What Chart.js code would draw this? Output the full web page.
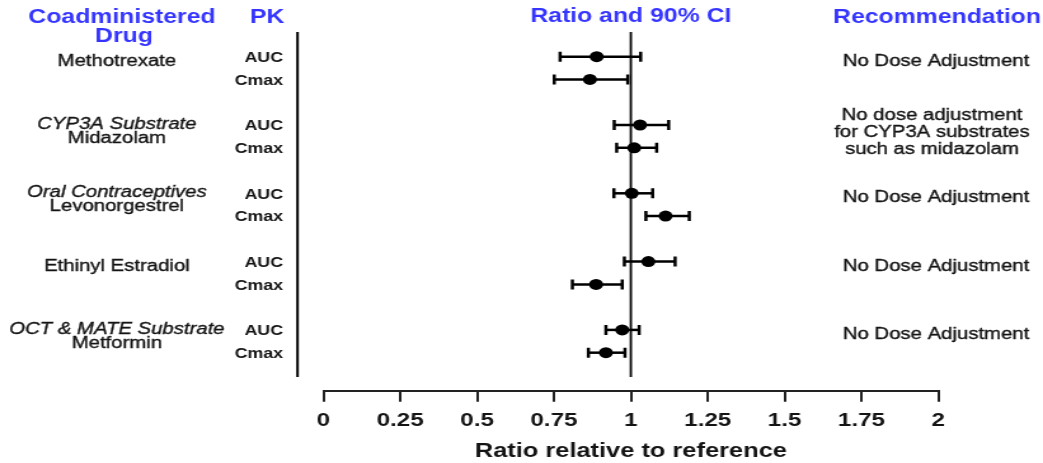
<!DOCTYPE html>
<html><head><meta charset="utf-8">
<script src="https://cdn.jsdelivr.net/npm/chart.js@4.4.1/dist/chart.umd.min.js"></script>
<style>
html,body{margin:0;padding:0;background:#fff;overflow:hidden;width:1043px;height:463px;}
#wrap{position:absolute;left:0;top:0;width:821px;height:463px;transform:scaleX(1.2704);transform-origin:0 0;}
</style></head><body>
<div id="wrap"><canvas id="c"></canvas></div>
<script>
// ---- data ----
const drugs = ['Methotrexate', 'Midazolam', 'Levonorgestrel', 'Ethinyl Estradiol', 'Metformin'];
const groupLabels = ['', 'CYP3A Substrate', 'Oral Contraceptives', '', 'OCT & MATE Substrate'];
const pkParams = ['AUC', 'Cmax'];
const ratioAUC = [0.889, 1.030, 1.003, 1.057, 0.972];
const lowerAUC = [0.770, 0.946, 0.945, 0.979, 0.919];
const upperAUC = [1.032, 1.123, 1.071, 1.144, 1.027];
const ratioCmax = [0.867, 1.011, 1.113, 0.887, 0.919];
const lowerCmax = [0.751, 0.954, 1.049, 0.810, 0.862];
const upperCmax = [0.990, 1.084, 1.190, 0.972, 0.981];
const recommendations = [
  ['No Dose Adjustment'],
  ['No dose adjustment', 'for CYP3A substrates', 'such as midazolam'],
  ['No Dose Adjustment'],
  ['No Dose Adjustment'],
  ['No Dose Adjustment']
];
const xTicks = [0, 0.25, 0.5, 0.75, 1, 1.25, 1.5, 1.75, 2];
const xTickLabels = ['0', '0.25', '0.5', '0.75', '1', '1.25', '1.5', '1.75', '2'];
const refValue = 1;
const headers = {drug: ['Coadministered', 'Drug'], pk: 'PK', ratio: 'Ratio and 90% CI', rec: 'Recommendation'};
const xTitle = 'Ratio relative to reference';

// ---- style / layout ----
const FAM = "'Liberation Sans', Arial, sans-serif";
const BLUE = '#3535ff';
const INK = '#141414';
const Y_MIN = -1.085, Y_MAX = 14.67, Y_LINE_END = 14.07;
const AXIS_X = 234.2;
const LEFT_CX = 92, PK_RX = 222.8, REC_CX = 736.8, REC3_CX = 733.6;

function rowAUC(i){ return 3 * i; }
function rowCmax(i){ return 3 * i + 1; }

const points = [];
drugs.forEach((d, i) => {
  points.push({x: ratioAUC[i], y: rowAUC(i)});
  points.push({x: ratioCmax[i], y: rowCmax(i)});
});

function txt(ctx, s, x, y, font, color, align, stroke){
  ctx.font = font; ctx.fillStyle = color; ctx.textAlign = align || 'center'; ctx.textBaseline = 'middle';
  ctx.fillText(s, x, y);
  if (stroke) { ctx.strokeStyle = color; ctx.lineWidth = stroke; ctx.strokeText(s, x, y); }
}

const forest = {
  id: 'forest',
  beforeDatasetsDraw(chart){
    const {ctx, scales: {x, y}} = chart;
    ctx.save();
    ctx.strokeStyle = '#000';
    ctx.lineCap = 'butt';
    ctx.lineWidth = 2;
    ctx.beginPath();
    ctx.moveTo(AXIS_X, y.getPixelForValue(Y_MIN));
    ctx.lineTo(AXIS_X, y.getPixelForValue(Y_LINE_END));
    ctx.stroke();
    const rx = x.getPixelForValue(refValue);
    ctx.lineWidth = 1.8;
    ctx.beginPath();
    ctx.moveTo(rx, y.getPixelForValue(Y_MIN));
    ctx.lineTo(rx, y.getPixelForValue(Y_LINE_END));
    ctx.stroke();
    const bars = [];
    drugs.forEach((d, i) => {
      bars.push([rowAUC(i), lowerAUC[i], upperAUC[i]]);
      bars.push([rowCmax(i), lowerCmax[i], upperCmax[i]]);
    });
    bars.forEach(([r, lo, hi]) => {
      const py = y.getPixelForValue(r);
      const xl = x.getPixelForValue(lo), xh = x.getPixelForValue(hi);
      ctx.lineWidth = 2.5;
      ctx.beginPath(); ctx.moveTo(xl, py); ctx.lineTo(xh, py); ctx.stroke();
      ctx.beginPath();
      ctx.moveTo(xl, py - 5); ctx.lineTo(xl, py + 5);
      ctx.moveTo(xh, py - 5); ctx.lineTo(xh, py + 5);
      ctx.stroke();
    });
    ctx.restore();
  },
  afterDraw(chart){
    const {ctx, scales: {x, y}} = chart;
    ctx.save();
    const H = "bold 19.5px " + FAM;
    txt(ctx, headers.drug[0], 96, 18, H, BLUE);
    txt(ctx, headers.drug[1], 97.6, 37, H, BLUE);
    txt(ctx, headers.pk, 210.2, 18, H, BLUE);
    txt(ctx, headers.ratio, (x.left + x.right) / 2, 17, H, BLUE);
    txt(ctx, headers.rec, 737.6, 18, H, BLUE);
    const R = "16px " + FAM, SW = 0.35;
    drugs.forEach((d, i) => {
      const ay = y.getPixelForValue(rowAUC(i));
      const cy = y.getPixelForValue(rowCmax(i));
      if (groupLabels[i]) {
        txt(ctx, groupLabels[i], LEFT_CX, ay - 0.5, "italic 16px " + FAM, INK, 'center', SW);
        txt(ctx, d, LEFT_CX, ay + 13.5, R, INK, 'center', SW);
      } else {
        txt(ctx, d, LEFT_CX, ay + 4.5, R, INK, 'center', SW);
      }
      txt(ctx, pkParams[0], PK_RX, ay + 1.5, "bold 14px " + FAM, INK, 'right');
      txt(ctx, pkParams[1], PK_RX, cy + 1.5, "bold 14px " + FAM, INK, 'right');
      const rec = recommendations[i];
      if (rec.length === 1) {
        txt(ctx, rec[0], REC_CX, ay + 4.5, R, INK, 'center', SW);
      } else {
        rec.forEach((line, k) => txt(ctx, line, REC3_CX, ay + 8 + (k - 1) * 17, R, INK, 'center', SW));
      }
    });
    ctx.restore();
  }
};

new Chart(document.getElementById('c'), {
  type: 'scatter',
  data: {datasets: [{
    data: points,
    backgroundColor: '#000', borderColor: '#000',
    pointRadius: 5.5, pointHoverRadius: 5.5, borderWidth: 0
  }]},
  options: {
    responsive: true, maintainAspectRatio: false, animation: false,
    events: [],
    layout: {padding: {left: 254.5, right: 82.4, top: 32, bottom: 0}},
    plugins: {legend: {display: false}, tooltip: {enabled: false}},
    scales: {
      x: {
        type: 'linear', min: 0, max: 2,
        afterBuildTicks: s => { s.ticks = xTicks.map(v => ({value: v})); },
        afterFit: s => { s.height = 72.3; },
        ticks: {
          autoSkip: false, maxRotation: 0, padding: 8, color: INK,
          font: {family: FAM, size: 19, weight: 'bold'},
          callback: (v, i) => xTickLabels[i]
        },
        grid: {display: true, drawOnChartArea: false, drawTicks: true, tickLength: 11, lineWidth: 2, color: '#222'},
        border: {display: true, width: 2, color: '#222'},
        title: {display: true, text: xTitle, color: INK, font: {family: FAM, size: 20, weight: 'bold'}, padding: {top: 0, bottom: 0}}
      },
      y: {type: 'linear', min: Y_MIN, max: Y_MAX, reverse: true, display: false}
    }
  },
  plugins: [forest]
});
</script>
</body></html>
